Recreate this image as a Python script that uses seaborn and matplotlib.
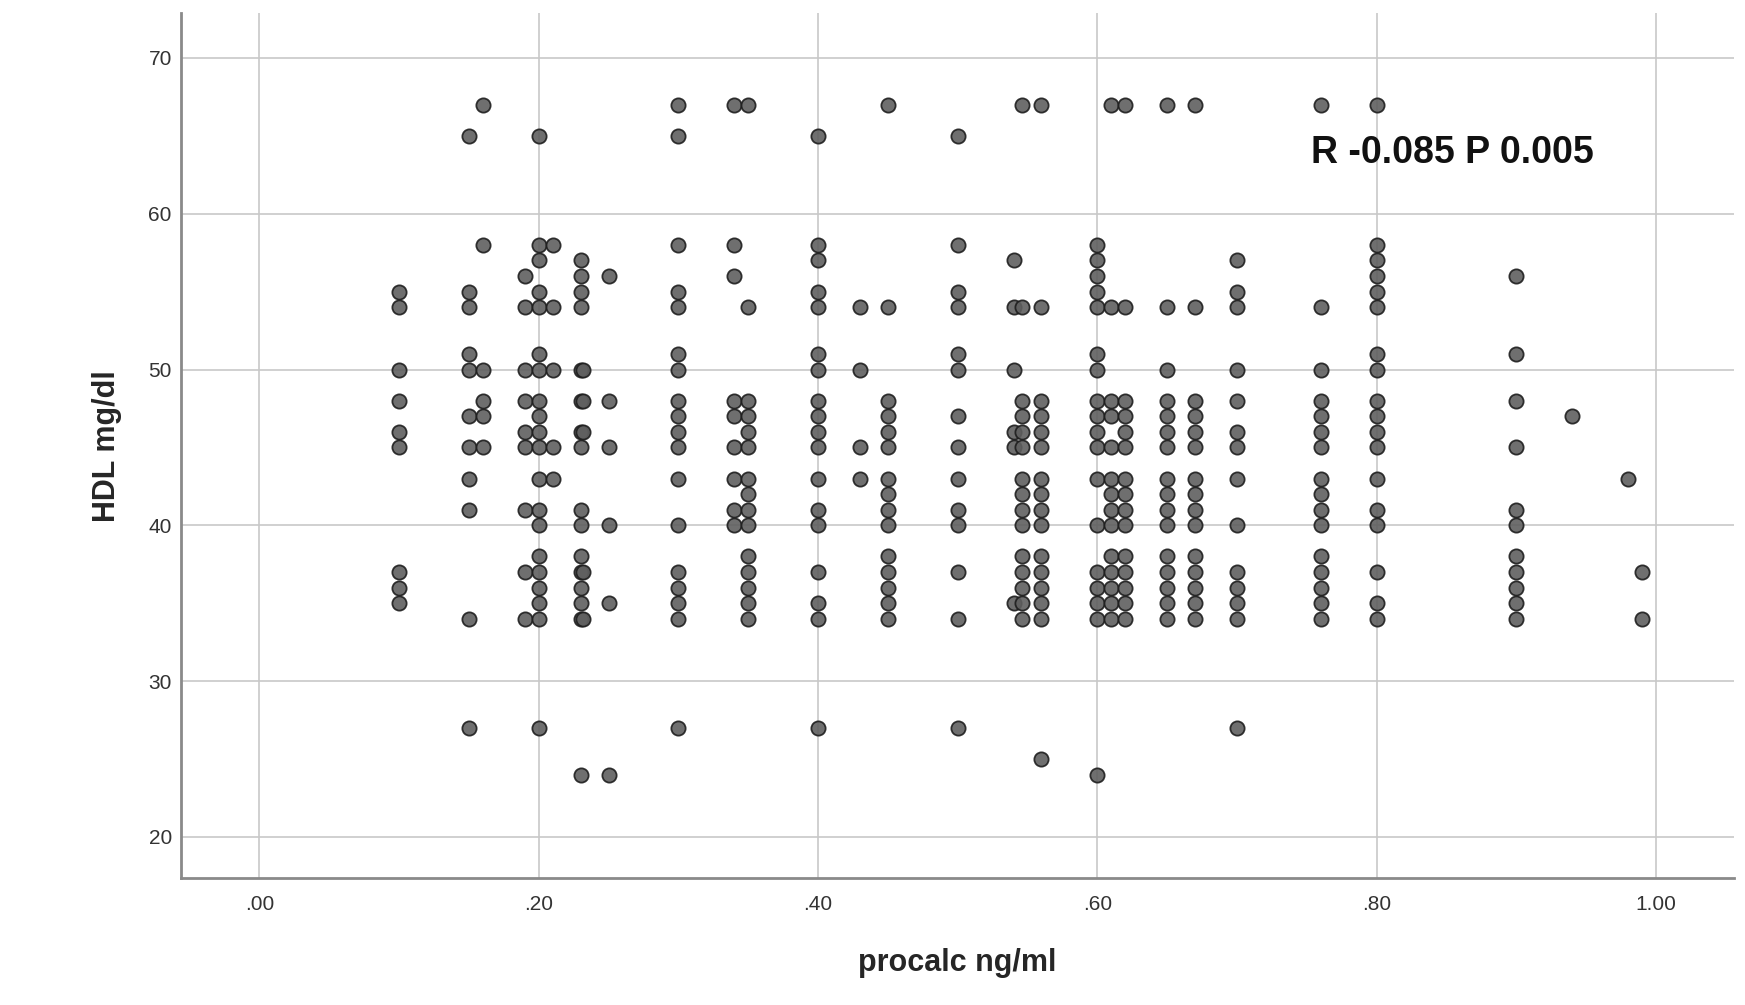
import numpy as np
import pandas as pd
import matplotlib
matplotlib.use("Agg")
import matplotlib.pyplot as plt
import seaborn as sns

# procalcitonin levels (x) and the HDL values (y) seen at each level
procalc_levels = [0.10, 0.15, 0.16, 0.19, 0.20, 0.21, 0.23, 0.232, 0.25, 0.30,
                  0.34, 0.35, 0.40, 0.43, 0.45, 0.50, 0.54, 0.546, 0.56, 0.60,
                  0.61, 0.62, 0.65, 0.67, 0.70, 0.76, 0.80, 0.90, 0.94, 0.98, 0.99]
hdl_levels = [
    [55, 54, 50, 48, 46, 45, 37, 36, 35],
    [65, 55, 54, 51, 50, 47, 45, 43, 41, 34, 27],
    [67, 58, 50, 48, 47, 45],
    [56, 54, 50, 48, 46, 45, 41, 37, 34],
    [65, 58, 57, 55, 54, 51, 50, 48, 47, 46, 45, 43, 41, 40, 38, 37, 36, 35, 34, 27],
    [58, 54, 50, 45, 43],
    [57, 56, 55, 54, 50, 48, 46, 45, 41, 40, 38, 37, 36, 35, 34, 24],
    [50, 48, 46, 37, 34],
    [56, 48, 45, 40, 35, 24],
    [67, 65, 58, 55, 54, 51, 50, 48, 47, 46, 45, 43, 40, 37, 36, 35, 34, 27],
    [67, 58, 56, 48, 47, 45, 43, 41, 40],
    [67, 54, 48, 47, 46, 45, 43, 42, 41, 40, 38, 37, 36, 35, 34],
    [65, 58, 57, 55, 54, 51, 50, 48, 47, 46, 45, 43, 41, 40, 37, 35, 34, 27],
    [54, 50, 45, 43],
    [67, 54, 48, 47, 46, 45, 43, 42, 41, 40, 38, 37, 36, 35, 34],
    [65, 58, 55, 54, 51, 50, 47, 45, 43, 41, 40, 37, 34, 27],
    [57, 54, 50, 46, 45, 35],
    [67, 54, 48, 47, 46, 45, 43, 42, 41, 40, 38, 37, 36, 35, 34],
    [67, 54, 48, 47, 46, 45, 43, 42, 41, 40, 38, 37, 36, 35, 34, 25],
    [58, 57, 56, 55, 54, 51, 50, 48, 47, 46, 45, 43, 40, 37, 36, 35, 34, 24],
    [67, 54, 48, 47, 45, 43, 42, 41, 40, 38, 37, 36, 35, 34],
    [67, 54, 48, 47, 46, 45, 43, 42, 41, 40, 38, 37, 36, 35, 34],
    [67, 54, 50, 48, 47, 46, 45, 43, 42, 41, 40, 38, 37, 36, 35, 34],
    [67, 54, 48, 47, 46, 45, 43, 42, 41, 40, 38, 37, 36, 35, 34],
    [57, 55, 54, 50, 48, 46, 45, 43, 40, 37, 36, 35, 34, 27],
    [67, 54, 50, 48, 47, 46, 45, 43, 42, 41, 40, 38, 37, 36, 35, 34],
    [67, 58, 57, 56, 55, 54, 51, 50, 48, 47, 46, 45, 43, 41, 40, 37, 35, 34],
    [56, 51, 48, 45, 41, 40, 38, 37, 36, 35, 34],
    [47],
    [43],
    [37, 34],
]
x_ticks = [0.0, 0.2, 0.4, 0.6, 0.8, 1.0]
x_ticklabels = [".00", ".20", ".40", ".60", ".80", "1.00"]
y_ticks = [20, 30, 40, 50, 60, 70]
annotation = "R -0.085 P 0.005"

rows = [(x, y) for x, ys in zip(procalc_levels, hdl_levels) for y in ys]
df = pd.DataFrame(rows, columns=["procalc", "hdl"])

sns.set_style("white")
plt.rcParams["font.family"] = ["Liberation Sans", "DejaVu Sans"]

fig = plt.figure(figsize=(17.45, 10.05), dpi=100)
ax = fig.add_axes([0.104, 0.1263, 0.8896, 0.8604])

sns.scatterplot(data=df, x="procalc", y="hdl", ax=ax, s=105,
                color="#5f5f5f", edgecolor="#1e1e1e", linewidth=1.3,
                alpha=0.9, zorder=3, legend=False)

ax.set_xlim(-0.0558, 1.0558)
ax.set_ylim(17.36, 72.86)
ax.set_xticks(x_ticks)
ax.set_xticklabels(x_ticklabels)
ax.set_yticks(y_ticks)
ax.grid(True, color="#c8c8c8", linewidth=1.2, zorder=0)
ax.set_axisbelow(True)

for side in ["top", "right"]:
    ax.spines[side].set_visible(False)
for side in ["left", "bottom"]:
    ax.spines[side].set_color("#8a8a8a")
    ax.spines[side].set_linewidth(2)

ax.tick_params(axis="both", length=0, labelsize=15, labelcolor="#333333")
ax.tick_params(axis="x", pad=12)
ax.tick_params(axis="y", pad=7)

ax.set_xlabel("procalc ng/ml", fontsize=22, fontweight="bold", labelpad=25)
ax.set_ylabel("HDL mg/dl", fontsize=22, fontweight="bold", labelpad=19)

ax.text(0.753, 63.9, annotation, fontsize=27, fontweight="bold",
        ha="left", va="center", color="#111111")

fig.savefig("out.png", dpi=100)
